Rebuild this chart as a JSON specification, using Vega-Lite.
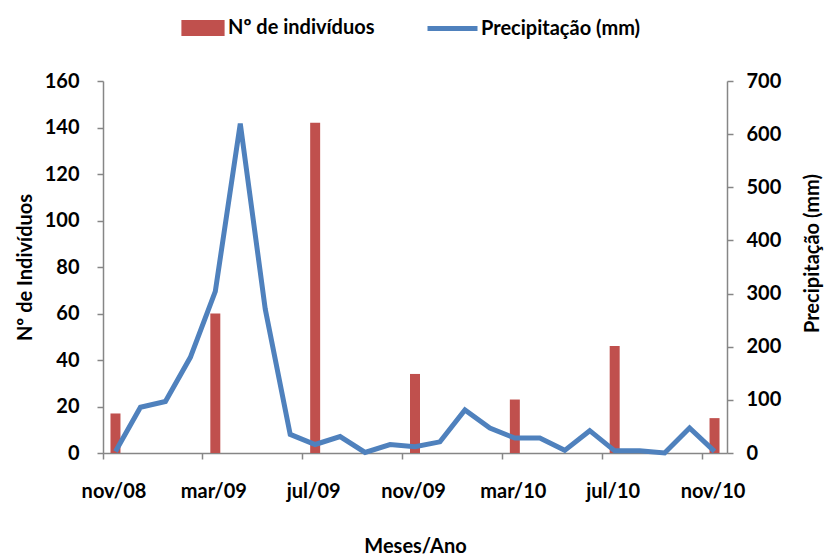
{
  "$schema": "https://vega.github.io/schema/vega-lite/v6.json",
  "width": 624,
  "height": 372,
  "autosize": {"type": "none"},
  "padding": {"left": 103, "top": 81, "right": 97, "bottom": 103},
  "config": {
    "font": "Lato",
    "view": {"stroke": null},
    "axis": {
      "grid": false,
      "labelFont": "Lato",
      "labelFontSize": 20,
      "labelFontWeight": "bold",
      "labelColor": "#000000",
      "titleFont": "Lato",
      "titleFontSize": 20,
      "titleFontWeight": "bold",
      "titleColor": "#000000",
      "domainColor": "#868686",
      "domainWidth": 1.5,
      "tickColor": "#868686",
      "tickWidth": 1.5,
      "tickSize": 6
    },
    "legend": {
      "labelFont": "Lato",
      "labelFontSize": 20,
      "labelFontWeight": "bold",
      "labelColor": "#000000",
      "padding": 0,
      "orient": "none"
    }
  },
  "data": {
    "values": [
      {"mes": "nov/08", "ind": 17, "prec": 3},
      {"mes": "dez/08", "ind": null, "prec": 86},
      {"mes": "jan/09", "ind": null, "prec": 97},
      {"mes": "fev/09", "ind": null, "prec": 180},
      {"mes": "mar/09", "ind": 60, "prec": 304},
      {"mes": "abr/09", "ind": null, "prec": 620},
      {"mes": "mai/09", "ind": null, "prec": 271},
      {"mes": "jun/09", "ind": null, "prec": 35},
      {"mes": "jul/09", "ind": 142, "prec": 16},
      {"mes": "ago/09", "ind": null, "prec": 31},
      {"mes": "set/09", "ind": null, "prec": 1},
      {"mes": "out/09", "ind": null, "prec": 16},
      {"mes": "nov/09", "ind": 34, "prec": 12},
      {"mes": "dez/09", "ind": null, "prec": 21},
      {"mes": "jan/10", "ind": null, "prec": 81},
      {"mes": "fev/10", "ind": null, "prec": 47},
      {"mes": "mar/10", "ind": 23, "prec": 28},
      {"mes": "abr/10", "ind": null, "prec": 28},
      {"mes": "mai/10", "ind": null, "prec": 5},
      {"mes": "jun/10", "ind": null, "prec": 42},
      {"mes": "jul/10", "ind": 46, "prec": 4},
      {"mes": "ago/10", "ind": null, "prec": 4},
      {"mes": "set/10", "ind": null, "prec": 0},
      {"mes": "out/10", "ind": null, "prec": 47},
      {"mes": "nov/10", "ind": 15, "prec": 3}
    ]
  },
  "encoding": {
    "x": {
      "field": "mes",
      "type": "ordinal",
      "sort": null,
      "scale": {
        "type": "band",
        "paddingInner": 0,
        "paddingOuter": 0,
        "domain": ["nov/08", "dez/08", "jan/09", "fev/09", "mar/09", "abr/09", "mai/09", "jun/09", "jul/09", "ago/09", "set/09", "out/09", "nov/09", "dez/09", "jan/10", "fev/10", "mar/10", "abr/10", "mai/10", "jun/10", "jul/10", "ago/10", "set/10", "out/10", "nov/10"]
      },
      "axis": {
        "title": "Meses/Ano",
        "values": ["nov/08", "mar/09", "jul/09", "nov/09", "mar/10", "jul/10", "nov/10"],
        "bandPosition": 0,
        "labelOffset": -1.5,
        "labelAngle": 0,
        "labelPadding": 22,
        "titlePadding": 35
      }
    }
  },
  "layer": [
    {
      "transform": [{"filter": "datum.ind != null"}],
      "mark": {"type": "bar", "width": {"band": 0.4}},
      "encoding": {
        "y": {
          "field": "ind",
          "type": "quantitative",
          "scale": {"domain": [0, 160]},
          "axis": {
            "orient": "left",
            "title": "Nº de Indivíduos",
            "values": [0, 20, 40, 60, 80, 100, 120, 140, 160],
            "labelPadding": 18,
            "titlePadding": 9
          }
        },
        "color": {
          "datum": "Nº de indivíduos",
          "type": "nominal",
          "scale": {"range": ["#C0504D"]},
          "legend": {
            "title": null,
            "symbolType": "M-2.7,-1H2.7V1H-2.7Z",
            "symbolSize": 256,
            "symbolStrokeWidth": 0,
            "symbolOpacity": 1,
            "labelOffset": 15,
            "legendX": 90,
            "legendY": -63
          }
        }
      }
    },
    {
      "mark": {"type": "line", "strokeWidth": 5},
      "encoding": {
        "x": {"field": "mes", "type": "ordinal", "bandPosition": 0.5},
        "y": {
          "field": "prec",
          "type": "quantitative",
          "scale": {"domain": [0, 700]},
          "axis": {
            "orient": "right",
            "title": "Precipitação (mm)",
            "titleAngle": 270,
            "titleBaseline": "top",
            "titleY": 172,
            "values": [0, 100, 200, 300, 400, 500, 600, 700],
            "labelPadding": 13,
            "titlePadding": 22
          }
        },
        "stroke": {
          "datum": "Precipitação (mm)",
          "type": "nominal",
          "scale": {"range": ["#4F81BD"]},
          "legend": {
            "title": null,
            "symbolType": "stroke",
            "symbolSize": 2500,
            "symbolStrokeWidth": 5,
            "labelOffset": 1,
            "legendX": 322,
            "legendY": -80
          }
        }
      }
    }
  ],
  "resolve": {"scale": {"y": "independent", "color": "independent", "stroke": "independent"}}
}
